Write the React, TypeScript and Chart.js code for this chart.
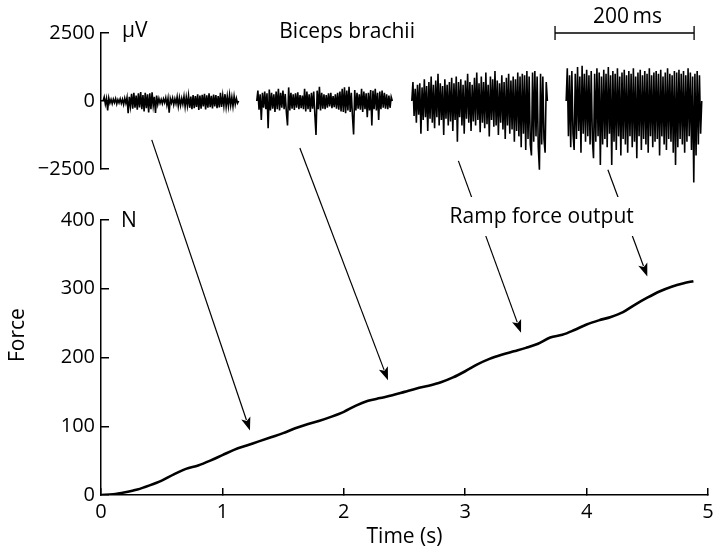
import { useEffect, useRef } from "react";
import { Chart, registerables } from "chart.js";

Chart.register(...registerables);

// ---- Force ramp (bottom panel) ----
const timeS = [
  0, 0.1, 0.2, 0.3, 0.4, 0.5, 0.6, 0.7, 0.8, 0.9, 1.0, 1.1, 1.2, 1.3, 1.4, 1.5, 1.6, 1.7, 1.8, 1.9,
  2.0, 2.1, 2.2, 2.3, 2.4, 2.5, 2.6, 2.7, 2.8, 2.9, 3.0, 3.1, 3.2, 3.3, 3.4, 3.5, 3.6, 3.7, 3.8, 3.9,
  4.0, 4.1, 4.2, 4.3, 4.4, 4.5, 4.6, 4.7, 4.8, 4.88,
];
const forceN = [
  0, 1, 4, 8, 14, 21, 30, 38, 43, 50, 58, 66, 72, 78, 84, 90, 97, 103, 108, 114,
  121, 130, 137, 141, 145, 150, 155, 159, 164, 171, 180, 190, 198, 204, 209, 214, 220, 229, 233, 240,
  248, 254, 259, 266, 277, 287, 296, 303, 308, 311,
];
const forceTicks = [0, 100, 200, 300, 400];
const timeTicks = [0, 1, 2, 3, 4, 5];

// ---- EMG bursts (top panel), µV, each ~195 ms ----
const emgTicks = [-2500, 0, 2500];
const emgBurstStartMs = [3, 224, 447, 669];
const emgBurstSpanMs = 195;
const emgBurst1 = [
  0, 150, -120, 90, -350, 110, -80, 60, -100, 70, -60, 90, -110, 50, -70, 80, -90, 60, -130, 100,
  -80, 130, -450, 150, -200, 260, -280, 300, -250, 200, -320, 280, -240, 330, -300, 220, -380, 300, -260, 250,
  -420, 280, -300, 320, -180, 150, -440, 200, -120, 90, -80, 60, -100, 80, -60, 120, -150, 100, -430, 90,
  -70, 110, -140, 80, -100, 150, -190, 120, -160, 90, -120, 170, -210, 140, -180, 200, -250, 160, -300, 220,
  -260, 180, -220, 250, -330, 200, -280, 230, -200, 260, -310, 210, -250, 280, -230, 190, -270, 240, -200, 220,
  -260, 180, -240, 300, -220, 200, -180, 250, -210, 170, -190, 220, -160, 140, -200, 180, -120, 100, -80, 0,
];
const emgBurst2 = [
  0, 380, -320, 250, -700, 300, -250, 350, -300, 280, -1000, 420, -350, 300, -280, 250, -400, 350, -300, 450,
  -350, 300, -250, 380, -300, 260, -420, -900, 500, -350, 300, -280, 250, -330, 280, -250, 320, -300, 220, -260,
  200, -300, 450, -380, 350, -300, 250, -400, 300, -280, 350, -500, -1250, 380, -300, 520, -350, 300, -280, 250,
  -300, 220, -250, 280, -200, 300, -260, 180, -230, 250, -280, 300, -320, 350, -380, 450, -400, 500, -450, 380,
  -350, 520, -400, 300, -550, -1230, 400, -350, 300, -280, 250, -320, 450, -400, 350, -300, 280, -600, 300, -350,
  400, -900, 380, -300, 450, -350, 300, -700, 350, -300, 380, -250, 300, -280, 250, -300, 200, -250, 150, 0,
];
const emgBurst3 = [
  0, 700, -550, 450, -800, 600, -500, 650, -1200, 500, -700, 800, -600, 550, -1100, 700, -650, 900, -800, 600,
  -1000, 750, -600, 1000, -900, 650, -700, 550, -1250, 800, -650, 600, -900, 700, -750, 850, -1100, 650, -700, 900,
  -1500, 700, -600, 800, -900, 600, -1200, 750, -650, 1000, -800, 700, -1100, 600, -750, 850, -900, 1050, -700, 650,
  -1150, 900, -800, 700, -1000, 1050, -850, 600, -1300, 900, -700, 800, -950, 1100, -900, 750, -1250, 650, -800, 950,
  -1050, 700, -1400, 850, -900, 1000, -1200, 750, -1050, 900, -1500, 800, -1100, 1050, -1300, 900, -1700, 1000, -1200, 950,
  -1800, 1100, -1400, 900, -1600, -2000, 1050, -1500, 1100, -1300, 900, -1700, -2530, 1000, -1600, 900, -1400, -1900, 700, 0,
];
const emgBurst4 = [
  0, 1200, -1300, 950, -1700, 1100, -1200, -1800, 1000, -1400, 1250, -1100, 900, -1900, 1300, -1200, 1000, -1500, 1150, -1300,
  950, -1600, 1100, -1400, -2100, 1000, -1500, 1200, -1300, 1050, -2350, 900, -1600, 1150, -1400, 1000, -1700, 1250, -1200, 950,
  -2350, 1100, -1500, 1000, -1800, 1200, -1300, 900, -2000, 1050, -1400, 1150, -1600, 950, -1900, 1100, -1300, 1000, -1700, 1200,
  -1500, 900, -2100, 1050, -1300, 1150, -1800, 950, -1400, 1100, -1600, 1000, -1900, 1200, -1300, 950, -1700, 1050, -1500, 1100,
  -1400, 1000, -2000, 1150, -1300, 900, -1600, 1050, -1800, 1200, -1400, 1000, -1500, 950, -1900, 1100, -2350, 1050, -1700, 1150,
  -1400, 1000, -1600, 1100, -1900, 950, -1500, 1200, -1300, 1050, -1800, 900, -3000, 1000, -2000, 1100, -1600, 950, -1200, 0,
];
const emgBursts = [emgBurst1, emgBurst2, emgBurst3, emgBurst4];
const emgAxisMaxMs = 873;

// scale bar (200 ms)
const scaleBarMs = [653, 853];
const scaleBarLabel = "200\u2009ms";

// arrows: from EMG burst (ms, µV) to force trace (s, N)
const arrowFromMs = [73, 286, 514, 729];
const arrowFromUv = [-1430, -1730, -2200, -2530];
const arrowToS = [1.227, 2.364, 3.46, 4.5];
const arrowToN = [94, 167, 236, 318];

const FONT = "'Open Sans', 'Noto Sans', sans-serif";

const fmtTick = (v: number | string) => {
  const n = Number(v);
  return n < 0 ? "\u2212" + Math.abs(n) : String(n);
};

const overlay = {
  id: "overlay",
  afterDatasetsDraw(chart: any) {
    const { ctx, scales } = chart;
    const xF = scales.x, yF = scales.y, xE = scales.xe, yE = scales.ye;
    ctx.save();
    ctx.strokeStyle = "#000";
    ctx.fillStyle = "#000";
    ctx.lineWidth = 1.2;
    // arrows
    for (let i = 0; i < arrowFromMs.length; i++) {
      const x1 = xE.getPixelForValue(arrowFromMs[i]);
      const y1 = yE.getPixelForValue(arrowFromUv[i]);
      const x2 = xF.getPixelForValue(arrowToS[i]);
      const y2 = yF.getPixelForValue(arrowToN[i]);
      const a = Math.atan2(y2 - y1, x2 - x1);
      const hl = 13, hw = 4.8;
      const bx = x2 - Math.cos(a) * hl, by = y2 - Math.sin(a) * hl;
      ctx.beginPath();
      ctx.moveTo(x1, y1);
      ctx.lineTo(bx + Math.cos(a) * 2, by + Math.sin(a) * 2);
      ctx.stroke();
      ctx.beginPath();
      ctx.moveTo(x2, y2);
      ctx.lineTo(bx - Math.sin(a) * hw, by + Math.cos(a) * hw);
      ctx.lineTo(bx + Math.cos(a) * 3, by + Math.sin(a) * 3);
      ctx.lineTo(bx + Math.sin(a) * hw, by - Math.cos(a) * hw);
      ctx.closePath();
      ctx.fill();
    }
    // "Ramp force output" with a knock-out behind it
    ctx.font = `21px ${FONT}`;
    ctx.textBaseline = "middle";
    ctx.textAlign = "center";
    const rampLabel = "Ramp force output";
    const rx = xF.getPixelForValue(3.63);
    const ry = yF.getPixelForValue(400) - 3;
    const rw = ctx.measureText(rampLabel).width;
    ctx.fillStyle = "#fff";
    ctx.fillRect(rx - rw / 2 - 4, ry - 20, rw + 8, 39);
    ctx.fillStyle = "#000";
    ctx.fillText(rampLabel, rx, ry);

    // Biceps brachii
    ctx.fillText("Biceps brachii", xE.getPixelForValue(354), yE.getPixelForValue(2500) - 1);
    // units
    ctx.textAlign = "left";
    ctx.fillText("\u03bcV", xE.left + 21, yE.getPixelForValue(2500) - 2);
    ctx.fillText("N", xF.left + 20, yF.getPixelForValue(400) + 1);

    // scale bar
    const sx1 = xE.getPixelForValue(scaleBarMs[0]);
    const sx2 = xE.getPixelForValue(scaleBarMs[1]);
    const sy = yE.getPixelForValue(2500);
    ctx.lineWidth = 1.3;
    ctx.beginPath();
    ctx.moveTo(sx1, sy); ctx.lineTo(sx2, sy);
    ctx.moveTo(sx1, sy - 7); ctx.lineTo(sx1, sy + 7);
    ctx.moveTo(sx2, sy - 7); ctx.lineTo(sx2, sy + 7);
    ctx.stroke();
    ctx.textAlign = "center";
    ctx.fillText(scaleBarLabel, (sx1 + sx2) / 2 + 3, sy - 16);

    // y title "Force"
    ctx.save();
    ctx.translate(18, yF.getPixelForValue(250) + 12);
    ctx.rotate(-Math.PI / 2);
    ctx.fillText("Force", 0, 0);
    ctx.restore();
    ctx.restore();
  },
};

const yFit = (s: any) => { s.width = 101; s.paddingTop = 0; s.paddingBottom = 0; };

export default function App() {
  const ref = useRef<HTMLCanvasElement | null>(null);
  useEffect(() => {
    if (!ref.current) return;
    const emgDatasets = emgBursts.map((burst, b) => ({
      label: "EMG " + (b + 1),
      data: burst.map((v, i) => ({
        x: emgBurstStartMs[b] + (i * emgBurstSpanMs) / (burst.length - 1),
        y: v,
      })),
      xAxisID: "xe",
      yAxisID: "ye",
      borderColor: "#000",
      borderWidth: 1.6,
      pointRadius: 0,
      tension: 0,
      clip: false as any,
    }));
    const chart = new Chart(ref.current, {
      type: "line",
      data: {
        datasets: [
          {
            label: "Force",
            data: timeS.map((t, i) => ({ x: t, y: forceN[i] })),
            xAxisID: "x",
            yAxisID: "y",
            borderColor: "#000",
            borderWidth: 2.6,
            pointRadius: 0,
            cubicInterpolationMode: "monotone",
          },
          ...emgDatasets,
        ],
      },
      options: {
        responsive: false,
        animation: false,
        devicePixelRatio: 1,
        layout: { padding: { top: 33, right: 6, bottom: 0, left: 0 } },
        plugins: { legend: { display: false }, tooltip: { enabled: false } },
        scales: {
          x: {
            type: "linear",
            axis: "x",
            position: "bottom",
            min: timeTicks[0],
            max: timeTicks[timeTicks.length - 1],
            afterBuildTicks: (s: any) => { s.ticks = timeTicks.map((v) => ({ value: v })); },
            ticks: { font: { size: 20, family: FONT }, color: "#000", padding: 12 },
            grid: { drawOnChartArea: false, drawTicks: true, tickLength: -7, color: "#000", lineWidth: 1.5 },
            border: { display: true, color: "#000", width: 1.5 },
            title: { display: true, text: "Time (s)", color: "#000", font: { size: 21, family: FONT }, padding: { top: 0, bottom: 5 } },
            afterFit: (s: any) => { s.height = 60; s.paddingLeft = 0; s.paddingRight = 0; },
          },
          xe: {
            type: "linear",
            axis: "x",
            position: "bottom",
            display: false,
            min: 0,
            max: emgAxisMaxMs,
            afterFit: (s: any) => { s.paddingLeft = 0; s.paddingRight = 0; },
          },
          ye: {
            type: "linear",
            axis: "y",
            position: "left",
            stack: "panels",
            stackWeight: 136,
            weight: 3,
            min: emgTicks[0],
            max: emgTicks[emgTicks.length - 1],
            afterBuildTicks: (s: any) => { s.ticks = emgTicks.map((v) => ({ value: v })); },
            ticks: { font: { size: 20, family: FONT }, color: "#000", padding: 14, callback: fmtTick },
            grid: { drawOnChartArea: false, drawTicks: true, tickLength: -8, color: "#000", lineWidth: 1.5 },
            border: { display: true, color: "#000", width: 1.5 },
            afterFit: yFit,
          },
          ys: {
            type: "linear",
            axis: "y",
            position: "left",
            stack: "panels",
            stackWeight: 51,
            weight: 2,
            ticks: { display: false },
            grid: { display: false },
            border: { display: false },
            afterFit: yFit,
          },
          y: {
            type: "linear",
            axis: "y",
            position: "left",
            stack: "panels",
            stackWeight: 275,
            weight: 1,
            min: forceTicks[0],
            max: forceTicks[forceTicks.length - 1],
            afterBuildTicks: (s: any) => { s.ticks = forceTicks.map((v) => ({ value: v })); },
            ticks: { font: { size: 20, family: FONT }, color: "#000", padding: 14, callback: fmtTick },
            grid: { drawOnChartArea: false, drawTicks: true, tickLength: -8, color: "#000", lineWidth: 1.5 },
            border: { display: true, color: "#000", width: 1.5 },
            afterFit: yFit,
          },
        },
      } as any,
      plugins: [overlay],
    });
    return () => chart.destroy();
  }, []);
  return (
    <div style={{ position: "absolute", left: 0, top: 0, width: 714, height: 555, background: "#fff" }}>
      <canvas ref={ref} width={714} height={555} style={{ display: "block" }} />
    </div>
  );
}
